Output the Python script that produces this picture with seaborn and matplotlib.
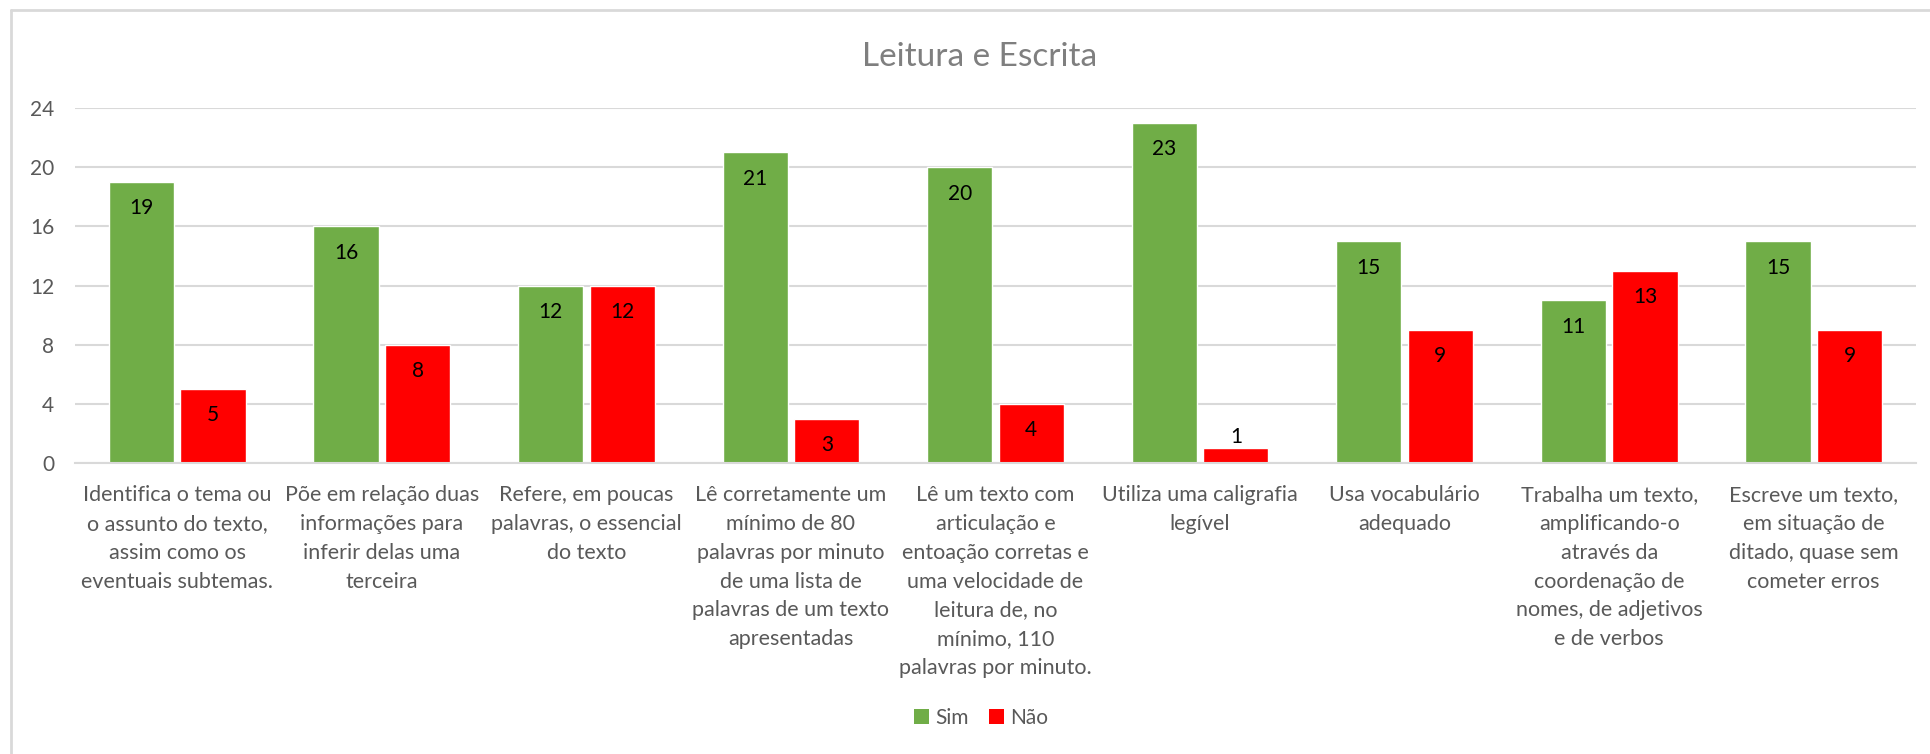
import matplotlib
matplotlib.use("Agg")
import matplotlib.pyplot as plt
import matplotlib.lines as mlines
from matplotlib.patches import Patch
import seaborn as sns
import pandas as pd

categories = [
    "Identifica o tema ou\no assunto do texto,\nassim como os\neventuais subtemas.",
    "Põe em relação duas\ninformações para\ninferir delas uma\nterceira",
    "Refere, em poucas\npalavras, o essencial\ndo texto",
    "Lê corretamente um\nmínimo de 80\npalavras por minuto\nde uma lista de\npalavras de um texto\napresentadas",
    "Lê um texto com\narticulação e\nentoação corretas e\numa velocidade de\nleitura de, no\nmínimo, 110\npalavras por minuto.",
    "Utiliza uma caligrafia\nlegível",
    "Usa vocabulário\nadequado",
    "Trabalha um texto,\namplificando-o\natravés da\ncoordenação de\nnomes, de adjetivos\ne de verbos",
    "Escreve um texto,\nem situação de\nditado, quase sem\ncometer erros",
]
sim = [19, 16, 12, 21, 20, 23, 15, 11, 15]
nao = [5, 8, 12, 3, 4, 1, 9, 13, 9]
series_names = ["Sim", "Não"]
yticks = [0, 4, 8, 12, 16, 20, 24]
title = "Leitura e Escrita"

colors = {"Sim": "#70AD47", "Não": "#FF0000"}

sns.set_theme(style="white")
fam = ["Lato", "DejaVu Sans"]
plt.rcParams["font.family"] = fam

df = pd.DataFrame({
    "cat": categories * 2,
    "val": sim + nao,
    "serie": [series_names[0]] * len(sim) + [series_names[1]] * len(nao),
})

fig = plt.figure(figsize=(19.3, 7.54), dpi=100)
ax = fig.add_axes([75 / 1930, 1 - 463 / 754, (1916 - 75) / 1930, (463 - 108) / 754])

sns.barplot(data=df, x="cat", y="val", hue="serie", palette=colors,
            width=0.70, gap=0.09, ax=ax, legend=False, saturation=1)

ax.set_xlim(-0.5, len(categories) - 0.5)
ax.set_ylim(0, 24)
ax.set_yticks(yticks)
ax.yaxis.grid(True, color="#d9d9d9", linewidth=1.5)
ax.set_axisbelow(True)
for s in ["top", "right", "left"]:
    ax.spines[s].set_visible(False)
ax.spines["bottom"].set_color("#d9d9d9")
ax.spines["bottom"].set_linewidth(1.5)
ax.set_xlabel("")
ax.set_ylabel("")
ax.tick_params(axis="y", length=0, pad=15, labelsize=15, labelcolor="#595959")
ax.tick_params(axis="x", length=0, pad=16, labelsize=15.5, labelcolor="#595959")
for lbl in ax.get_xticklabels():
    lbl.set_linespacing(1.55)
    lbl.set_verticalalignment("top")

for cont in ax.containers:
    for bar in cont:
        h = bar.get_height()
        cx = bar.get_x() + bar.get_width() / 2
        if h >= 2:
            ax.annotate(f"{int(h)}", (cx, h), xytext=(0, -19), textcoords="offset points",
                        ha="center", va="center", fontsize=15, color="black")
        else:
            ax.annotate(f"{int(h)}", (cx, h), xytext=(0, 8), textcoords="offset points",
                        ha="center", va="center", fontsize=15, color="black")

fig.text(980 / 1930, 1 - 57 / 754, title, ha="center", va="center",
         fontsize=24, color="#7f7f7f")

handles = [Patch(facecolor=colors[n], edgecolor="none", label=n) for n in series_names]
fig.legend(handles=handles, loc="center", bbox_to_anchor=(981 / 1930, 1 - 718 / 754),
           ncol=2, frameon=False, fontsize=15, labelcolor="#595959",
           handlelength=0.7, handleheight=0.7, handletextpad=0.3, columnspacing=1.0)

# chart frame lines (top and left)
fig.add_artist(mlines.Line2D([11 / 1930, 1], [1 - 10 / 754, 1 - 10 / 754],
                             color="#d9d9d9", linewidth=2, transform=fig.transFigure))
fig.add_artist(mlines.Line2D([11 / 1930, 11 / 1930], [0, 1 - 10 / 754],
                             color="#d9d9d9", linewidth=2, transform=fig.transFigure))

fig.savefig("out.png", dpi=100, facecolor="white")
